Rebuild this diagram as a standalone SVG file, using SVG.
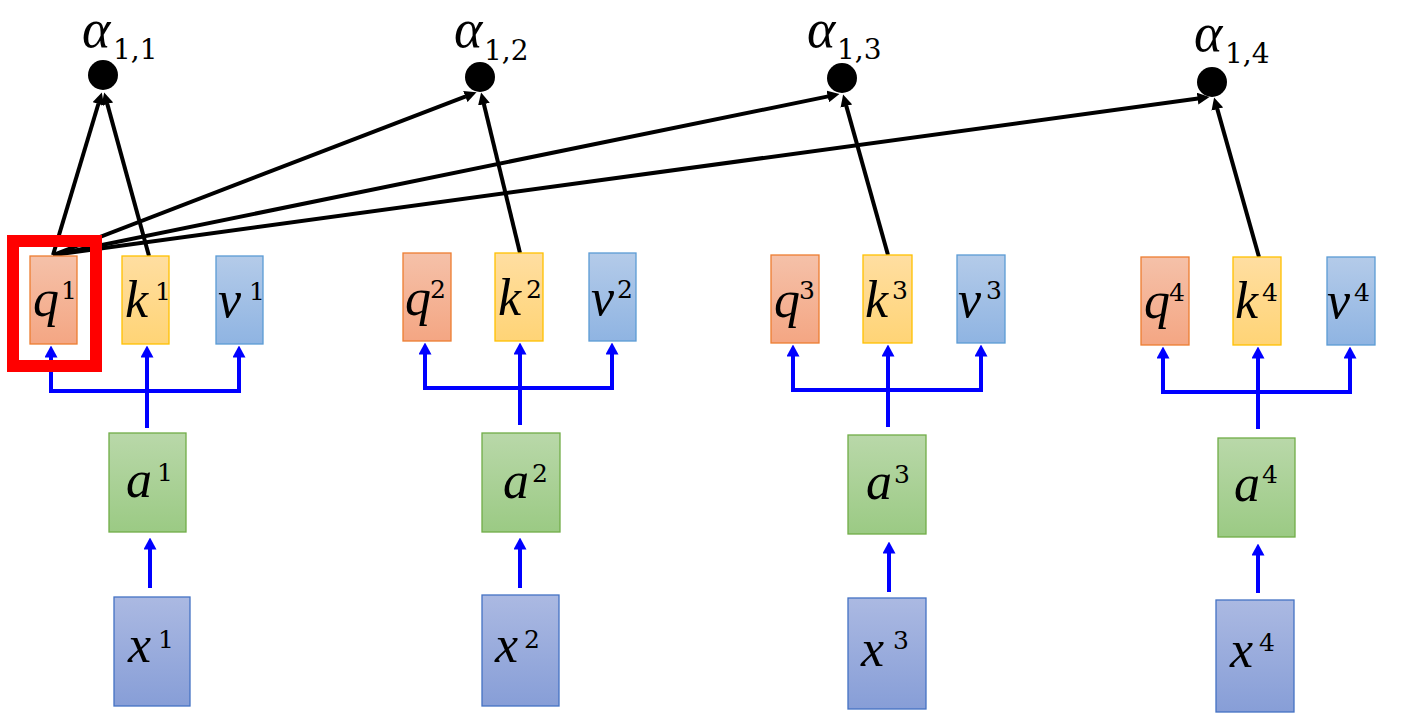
<svg xmlns="http://www.w3.org/2000/svg" width="1413" height="713" viewBox="0 0 1413 713">
<defs>
<linearGradient id="gq" x1="0" y1="0" x2="0" y2="1"><stop offset="0" stop-color="#f5c1a9"/><stop offset="1" stop-color="#f4a683"/></linearGradient>
<linearGradient id="gk" x1="0" y1="0" x2="0" y2="1"><stop offset="0" stop-color="#ffdea1"/><stop offset="1" stop-color="#ffd476"/></linearGradient>
<linearGradient id="gv" x1="0" y1="0" x2="0" y2="1"><stop offset="0" stop-color="#b4cbe9"/><stop offset="1" stop-color="#8fb4e2"/></linearGradient>
<linearGradient id="ga" x1="0" y1="0" x2="0" y2="1"><stop offset="0" stop-color="#b9d8a9"/><stop offset="1" stop-color="#9bca84"/></linearGradient>
<linearGradient id="gx" x1="0" y1="0" x2="0" y2="1"><stop offset="0" stop-color="#abb9e2"/><stop offset="1" stop-color="#879ed7"/></linearGradient>
<marker id="mb" markerUnits="userSpaceOnUse" viewBox="0 0 12 13" markerWidth="12" markerHeight="13" refX="0.5" refY="6.5" orient="auto"><path d="M0,0 L12,6.5 L0,13 z" fill="#0000ff"/></marker>
<marker id="mk" markerUnits="userSpaceOnUse" viewBox="0 0 12 12" markerWidth="12" markerHeight="12" refX="0.5" refY="6" orient="auto"><path d="M0,0 L12,6 L0,12 z" fill="#000"/></marker>
</defs>
<style>
.q{fill:url(#gq);stroke:#ed7d31;stroke-width:1.3}
.k{fill:url(#gk);stroke:#ffc000;stroke-width:1.3}
.v{fill:url(#gv);stroke:#5b9bd5;stroke-width:1.3}
.a{fill:url(#ga);stroke:#70ad47;stroke-width:1.3}
.x{fill:url(#gx);stroke:#4472c4;stroke-width:1.3}
.t{font-family:"Liberation Serif","DejaVu Serif",serif;font-style:italic;font-size:52px;fill:#000}
.t .s{font-family:"DejaVu Serif",serif;font-style:normal;font-size:25px}
.al{font-family:"Liberation Serif","DejaVu Serif",serif;font-style:italic;font-size:54px;fill:#000}
.al .sb{font-family:"DejaVu Serif",serif;font-style:normal;font-size:28px}
.blue{stroke:#0000ff;stroke-width:4;fill:none}
.blk{stroke:#000;stroke-width:4;fill:none}
.dot{fill:#000}
</style>

<g id="connectors">
<line class="blue" x1="51" y1="391" x2="239" y2="391" stroke-linecap="square"/>
<line class="blue" x1="51" y1="391" x2="51" y2="357" marker-end="url(#mb)"/>
<line class="blue" x1="239" y1="391" x2="239" y2="357" marker-end="url(#mb)"/>
<line class="blue" x1="147" y1="428" x2="147" y2="357" marker-end="url(#mb)"/>
<line class="blue" x1="150" y1="588" x2="150" y2="549" marker-end="url(#mb)"/>
<line class="blue" x1="425" y1="388" x2="612" y2="388" stroke-linecap="square"/>
<line class="blue" x1="425" y1="388" x2="425" y2="354" marker-end="url(#mb)"/>
<line class="blue" x1="612" y1="388" x2="612" y2="354" marker-end="url(#mb)"/>
<line class="blue" x1="520" y1="425" x2="520" y2="354" marker-end="url(#mb)"/>
<line class="blue" x1="520" y1="588" x2="520" y2="549" marker-end="url(#mb)"/>
<line class="blue" x1="793" y1="390" x2="981" y2="390" stroke-linecap="square"/>
<line class="blue" x1="793" y1="390" x2="793" y2="356" marker-end="url(#mb)"/>
<line class="blue" x1="981" y1="390" x2="981" y2="356" marker-end="url(#mb)"/>
<line class="blue" x1="888" y1="427" x2="888" y2="356" marker-end="url(#mb)"/>
<line class="blue" x1="889" y1="592" x2="889" y2="553" marker-end="url(#mb)"/>
<line class="blue" x1="1163" y1="392" x2="1350" y2="392" stroke-linecap="square"/>
<line class="blue" x1="1163" y1="392" x2="1163" y2="358" marker-end="url(#mb)"/>
<line class="blue" x1="1350" y1="392" x2="1350" y2="358" marker-end="url(#mb)"/>
<line class="blue" x1="1258" y1="429" x2="1258" y2="358" marker-end="url(#mb)"/>
<line class="blue" x1="1258" y1="593" x2="1258" y2="555" marker-end="url(#mb)"/>
<line class="blk" x1="53" y1="255" x2="98.5" y2="103.5" marker-end="url(#mk)"/>
<line class="blk" x1="149" y1="256" x2="107.2" y2="103.6" marker-end="url(#mk)"/>
<line class="blk" x1="53" y1="255" x2="465.8" y2="96.3" marker-end="url(#mk)"/>
<line class="blk" x1="520" y1="253" x2="483.8" y2="103.7" marker-end="url(#mk)"/>
<line class="blk" x1="53" y1="255" x2="828.2" y2="96.4" marker-end="url(#mk)"/>
<line class="blk" x1="888" y1="255" x2="846.2" y2="105.6" marker-end="url(#mk)"/>
<line class="blk" x1="53" y1="255" x2="1198.1" y2="98.6" marker-end="url(#mk)"/>
<line class="blk" x1="1259" y1="257" x2="1217.2" y2="108.6" marker-end="url(#mk)"/>
</g>

<g id="alpha11"><circle class="dot" cx="103" cy="75" r="15"/><text class="al" x="82" y="47">α<tspan class="sb" x="113" y="59">1,1</tspan></text></g>
<g id="alpha12"><circle class="dot" cx="480" cy="77" r="15"/><text class="al" x="454" y="47">α<tspan class="sb" x="484" y="60">1,2</tspan></text></g>
<g id="alpha13"><circle class="dot" cx="842" cy="78" r="15"/><text class="al" x="807" y="47">α<tspan class="sb" x="837" y="59">1,3</tspan></text></g>
<g id="alpha14"><circle class="dot" cx="1212" cy="82" r="15"/><text class="al" x="1194" y="51">α<tspan class="sb" x="1225" y="63">1,4</tspan></text></g>

<g id="q1"><rect class="q" x="30" y="256" width="47" height="88"/><text class="t" x="33" y="316">q<tspan class="s" x="61" y="299">1</tspan></text></g>
<g id="k1"><rect class="k" x="122" y="256" width="47" height="88"/><text class="t" x="125" y="317">k<tspan class="s" x="155" y="300">1</tspan></text></g>
<g id="v1"><rect class="v" x="216" y="256" width="47" height="88"/><text class="t" x="218" y="317">v<tspan class="s" x="249" y="300">1</tspan></text></g>
<g id="a1"><rect class="a" x="109" y="433" width="77" height="99"/><text class="t" x="126" y="497">a<tspan class="s" x="157" y="481">1</tspan></text></g>
<g id="x1"><rect class="x" x="114" y="597" width="76" height="109"/><text class="t" x="128" y="662">x<tspan class="s" x="158" y="648">1</tspan></text></g>
<g id="highlight"><rect x="13" y="241" width="83" height="125" fill="none" stroke="#ff0000" stroke-width="12"/></g>

<g id="q2"><rect class="q" x="403" y="253" width="48" height="88"/><text class="t" x="405" y="315">q<tspan class="s" x="430" y="298">2</tspan></text></g>
<g id="k2"><rect class="k" x="495" y="253" width="48" height="88"/><text class="t" x="498" y="315">k<tspan class="s" x="526" y="298">2</tspan></text></g>
<g id="v2"><rect class="v" x="589" y="253" width="47" height="88"/><text class="t" x="591" y="315">v<tspan class="s" x="617" y="298">2</tspan></text></g>
<g id="a2"><rect class="a" x="482" y="433" width="78" height="99"/><text class="t" x="503" y="498">a<tspan class="s" x="532" y="482">2</tspan></text></g>
<g id="x2"><rect class="x" x="482" y="595" width="77" height="111"/><text class="t" x="495" y="662">x<tspan class="s" x="524" y="648">2</tspan></text></g>

<g id="q3"><rect class="q" x="771" y="255" width="48" height="88"/><text class="t" x="774" y="317">q<tspan class="s" x="799" y="299">3</tspan></text></g>
<g id="k3"><rect class="k" x="863" y="255" width="49" height="88"/><text class="t" x="865" y="317">k<tspan class="s" x="892" y="299">3</tspan></text></g>
<g id="v3"><rect class="v" x="957" y="255" width="48" height="88"/><text class="t" x="958" y="317">v<tspan class="s" x="986" y="299">3</tspan></text></g>
<g id="a3"><rect class="a" x="848" y="435" width="78" height="99"/><text class="t" x="866" y="499">a<tspan class="s" x="894" y="483">3</tspan></text></g>
<g id="x3"><rect class="x" x="848" y="598" width="78" height="111"/><text class="t" x="861" y="666">x<tspan class="s" x="893" y="649">3</tspan></text></g>

<g id="q4"><rect class="q" x="1141" y="257" width="48" height="88"/><text class="t" x="1144" y="318">q<tspan class="s" x="1169" y="301">4</tspan></text></g>
<g id="k4"><rect class="k" x="1233" y="257" width="48" height="88"/><text class="t" x="1235" y="318">k<tspan class="s" x="1262" y="301">4</tspan></text></g>
<g id="v4"><rect class="v" x="1327" y="257" width="48" height="88"/><text class="t" x="1327" y="318">v<tspan class="s" x="1354" y="301">4</tspan></text></g>
<g id="a4"><rect class="a" x="1218" y="438" width="77" height="99"/><text class="t" x="1234" y="501">a<tspan class="s" x="1262" y="483">4</tspan></text></g>
<g id="x4"><rect class="x" x="1216" y="600" width="78" height="112"/><text class="t" x="1230" y="667">x<tspan class="s" x="1259" y="651">4</tspan></text></g>
</svg>
